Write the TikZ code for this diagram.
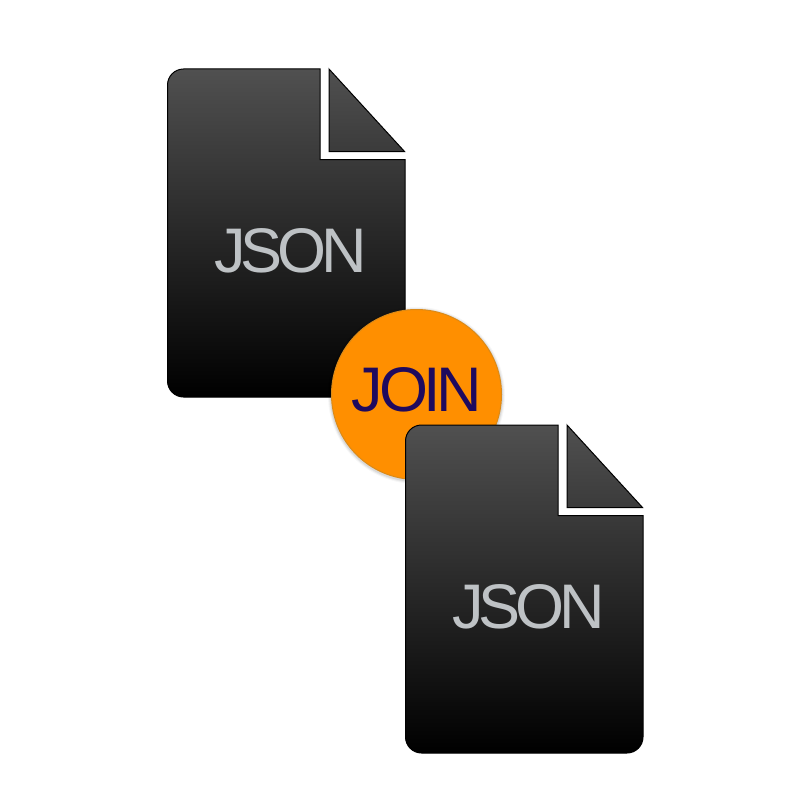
\documentclass[tikz,border=0pt]{standalone}
\usepackage{fontspec}
\setmainfont{Liberation Sans}
\newfontfamily\jsonfont[LetterSpace=-8]{Liberation Sans}
\newfontfamily\joinfont[LetterSpace=-7]{Liberation Sans}
\definecolor{docTop}{HTML}{505050}
\definecolor{docMid}{HTML}{1F1F1F}
\definecolor{docBot}{HTML}{000000}
\definecolor{foldBot}{HTML}{3B3B3B}
\definecolor{silver}{HTML}{BEC2C5}
\definecolor{joinOrange}{HTML}{FF8F00}
\definecolor{joinEdge}{HTML}{DB8A18}
\definecolor{joinInk}{HTML}{1F0A5E}
\tikzset{
  x=1pt,y=-1pt,
  docbody/.style={top color=docTop,middle color=docMid,bottom color=docBot,draw=black,line width=1pt},
  docfold/.style={top color=docTop,bottom color=foldBot,draw=black,line width=1pt,line join=miter},
  doclabel/.style={text=silver,font=\jsonfont\fontsize{63}{63}\selectfont,inner sep=0pt,anchor=center},
  joindisc/.style={circle,fill=joinOrange,draw=joinEdge,line width=1pt,minimum size=170pt,inner sep=0pt},
  joinlabel/.style={text=joinInk,font=\joinfont\fontsize{63}{63}\selectfont,inner sep=0pt,anchor=center}
}
\newcommand{\jsondoc}[3]{%
  \begin{scope}[shift={(#1,#2)}]
    \shadedraw[docbody] (16,0) -- (152.5,0) -- (152.5,90.5) -- (237.5,90.5) -- (237.5,312)
      .. controls (237.5,320.8) and (230.3,328) .. (221.5,328) -- (16,328)
      .. controls (7.2,328) and (0,320.8) .. (0,312) -- (0,16)
      .. controls (0,7.2) and (7.2,0) .. (16,0) -- cycle;
    \shadedraw[docfold] (161.5,0) -- (237,82.5) -- (161.5,82.5) -- cycle;
    \node[doclabel] (#3) at (123,182) {JSON};
  \end{scope}}
\begin{document}
\begin{tikzpicture}
  \useasboundingbox (0,0) rectangle (800,800);
  \fill[white] (0,0) rectangle (800,800);
  \jsondoc{167.5}{69}{jsonA}
  \foreach \r/\o in {88.5/0.03,87.5/0.05,86.5/0.07}{
    \fill[black,opacity=\o] (416.5,395.5) circle[radius=\r];
  }
  \node[joindisc] (joinDisc) at (416.5,394.5) {};
  \node[joinlabel] (joinText) at (417,389.5) {JOIN};
  \jsondoc{405.5}{425}{jsonB}
\end{tikzpicture}
\end{document}
